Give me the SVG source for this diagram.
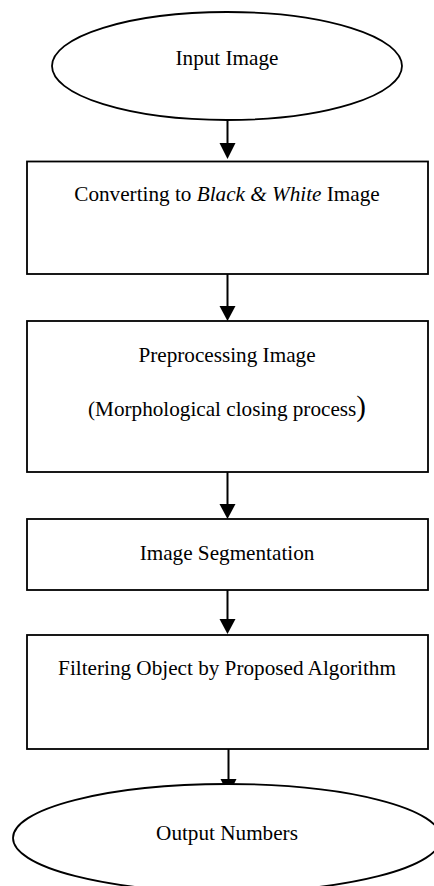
<svg xmlns="http://www.w3.org/2000/svg" width="434" height="886" viewBox="0 0 434 886">
<defs>
<style>
.n{fill:#fff;stroke:#000;stroke-width:1.8}
.t{font-family:"Liberation Serif","Times New Roman",serif;font-size:21.2px;fill:#000;text-anchor:middle}
.c{stroke:#000;stroke-width:2;fill:none}
.h{fill:#000;stroke:none}
</style>
</defs>
<rect width="434" height="886" fill="#fff"/>
<g id="connectors">
<line class="c" x1="227.5" y1="120" x2="227.5" y2="144"/>
<polygon class="h" points="219.5,143 235.5,143 227.5,159"/>
<line class="c" x1="227.5" y1="274" x2="227.5" y2="307"/>
<polygon class="h" points="219.5,306 235.5,306 227.5,321"/>
<line class="c" x1="227.5" y1="472" x2="227.5" y2="505"/>
<polygon class="h" points="219.5,504 235.5,504 227.5,519"/>
<line class="c" x1="227.5" y1="588" x2="227.5" y2="620"/>
<polygon class="h" points="219.5,619 235.5,619 227.5,634"/>
<line class="c" x1="228.5" y1="749" x2="228.5" y2="780"/>
<polygon class="h" points="220.5,779 236.5,779 228.5,795"/>
</g>
<g id="input-image">
<ellipse class="n" cx="227" cy="66" rx="175" ry="54"/>
<text class="t" x="227" y="65">Input Image</text>
</g>
<g id="convert-bw">
<rect class="n" x="27" y="161.5" width="401" height="112.5"/>
<text class="t" x="227" y="201">Converting to <tspan font-style="italic">Black &amp; White</tspan> Image</text>
</g>
<g id="preprocessing">
<rect class="n" x="27" y="321" width="401" height="151"/>
<text class="t" x="227" y="362">Preprocessing Image</text>
<text class="t" x="227" y="416">(Morphological closing process<tspan font-size="29px">)</tspan></text>
</g>
<g id="segmentation">
<rect class="n" x="27" y="519" width="401" height="71"/>
<text class="t" x="227" y="560">Image Segmentation</text>
</g>
<g id="filtering">
<rect class="n" x="27" y="635" width="401" height="114"/>
<text class="t" x="227" y="675">Filtering Object by Proposed Algorithm</text>
</g>
<g id="output-numbers">
<ellipse class="n" cx="227" cy="838" rx="214" ry="54"/>
<text class="t" x="227" y="840">Output Numbers</text>
</g>
</svg>
